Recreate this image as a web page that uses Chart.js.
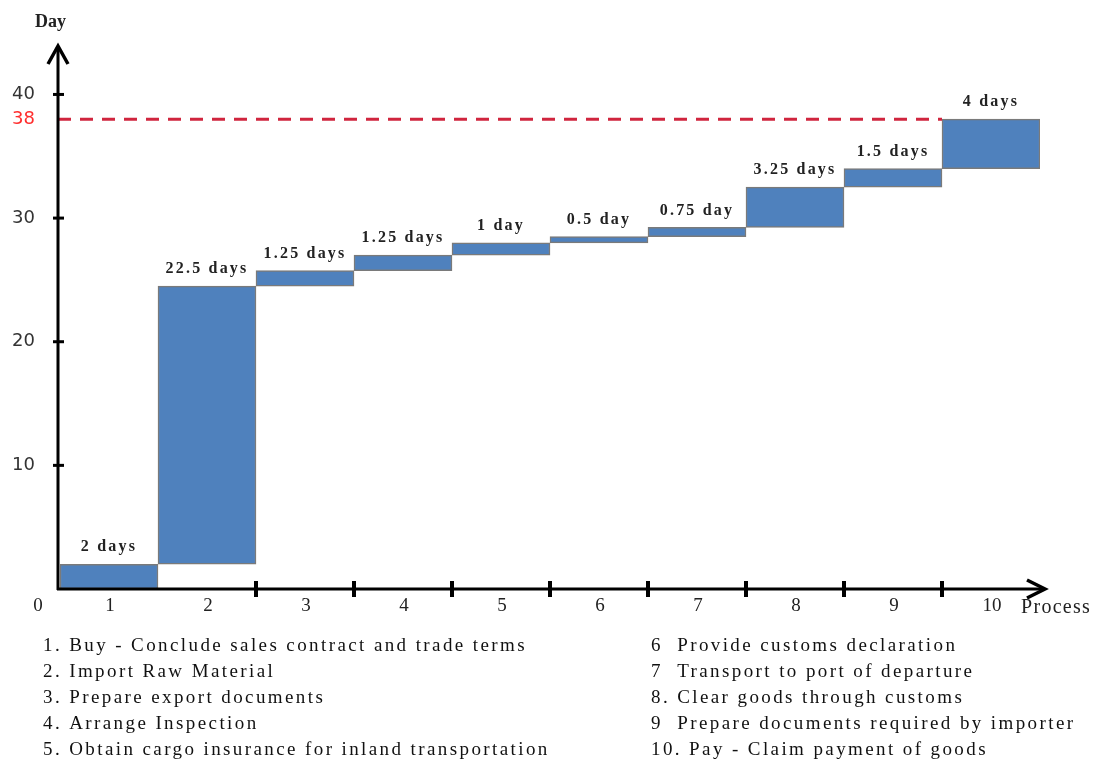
<!DOCTYPE html>
<html>
<head>
<meta charset="utf-8">
<script src="https://cdn.jsdelivr.net/npm/chart.js@4/dist/chart.umd.min.js"></script>
<style>
  html, body { margin: 0; padding: 0; background: #fff; }
  #wrap { width: 1099px; height: 763px; }
</style>
</head>
<body>
<div id="wrap"><canvas id="myChart" width="1099" height="763"></canvas></div>
<script>
// data
var categories = ['1', '2', '3', '4', '5', '6', '7', '8', '9', '10'];
var barStart = [0, 2, 24.5, 25.75, 27, 28, 28.5, 29.25, 32.5, 34];
var barEnd = [2, 24.5, 25.75, 27, 28, 28.5, 29.25, 32.5, 34, 38];
var durationLabels = ['2 days', '22.5 days', '1.25 days', '1.25 days', '1 day', '0.5 day', '0.75 day', '3.25 days', '1.5 days', '4 days'];
var yTicks = [10, 20, 30, 40];
var totalDays = 38;
var stepsLeft = [
  '1. Buy - Conclude sales contract and trade terms',
  '2. Import Raw Material',
  '3. Prepare export documents',
  '4. Arrange Inspection',
  '5. Obtain cargo insurance for inland transportation'
];
var stepsRight = [
  '6  Provide customs declaration',
  '7  Transport to port of departure',
  '8. Clear goods through customs',
  '9  Prepare documents required by importer',
  '10. Pay - Claim payment of goods'
];

var SERIF = '"Liberation Serif", "DejaVu Serif", serif';

// draws axes, arrows, ticks, labels and the notes under the chart
var decorPlugin = {
  id: 'decor',
  afterDatasetsDraw: function (chart) {
    var c = chart.ctx;
    var xs = chart.scales.x;
    var ys = chart.scales.y;
    var meta = chart.getDatasetMeta(0);
    var x0 = 58;
    var y0 = ys.getPixelForValue(0);
    c.save();

    // dashed line at total
    var yTot = ys.getPixelForValue(totalDays);
    var lastBar = meta.data[meta.data.length - 1];
    c.strokeStyle = '#d0253e';
    c.lineWidth = 3;
    c.setLineDash([13, 9]);
    c.beginPath();
    c.moveTo(x0, yTot);
    c.lineTo(lastBar.x - lastBar.width / 2, yTot);
    c.stroke();
    c.setLineDash([]);

    // labels above bars
    c.fillStyle = '#222';
    c.font = 'bold 16px ' + SERIF;
    c.letterSpacing = '2.2px';
    c.textAlign = 'center';
    c.textBaseline = 'middle';
    meta.data.forEach(function (bar, i) {
      c.fillText(durationLabels[i], bar.x, bar.y - 17);
    });

    // axes
    c.strokeStyle = '#000';
    c.lineWidth = 3;
    c.beginPath();
    c.moveTo(x0, y0 + 1);
    c.lineTo(x0, 46);
    c.moveTo(x0 - 1, y0);
    c.lineTo(1044, y0);
    c.stroke();
    // arrow heads
    c.lineWidth = 3.5;
    c.beginPath();
    c.moveTo(x0 - 10, 64);
    c.lineTo(x0, 46);
    c.lineTo(x0 + 10, 64);
    c.moveTo(1027, y0 - 9);
    c.lineTo(1045, y0);
    c.lineTo(1027, y0 + 9);
    c.stroke();

    // y tick marks + labels
    c.letterSpacing = '0px';
    c.font = '18px "DejaVu Sans", sans-serif';
    c.textAlign = 'right';
    yTicks.forEach(function (v) {
      var py = ys.getPixelForValue(v);
      c.fillStyle = '#000';
      c.fillRect(x0 - 5, py - 1.5, 11, 3);
      c.fillStyle = '#333';
      c.fillText(String(v), 35, py);
    });
    c.fillStyle = '#ff2d2d';
    c.fillText(String(totalDays), 35, yTot);

    // x tick marks between categories (none between 1 and 2)
    c.fillStyle = '#000';
    for (var i = 1; i < categories.length - 1; i++) {
      var px = (xs.getPixelForValue(i) + xs.getPixelForValue(i + 1)) / 2;
      c.fillRect(px - 2, y0 - 8, 4, 16);
    }

    // x labels
    c.fillStyle = '#222';
    c.font = '19px ' + SERIF;
    c.textAlign = 'center';
    categories.forEach(function (lab, i) {
      c.fillText(lab, xs.getPixelForValue(i) + 1, y0 + 17);
    });
    c.fillText('0', 38, y0 + 17);
    c.textAlign = 'left';
    c.font = '20px ' + SERIF;
    c.letterSpacing = '1.3px';
    c.fillText('Process', 1021, y0 + 19);

    c.font = 'bold 18px ' + SERIF;
    c.letterSpacing = '0px';
    c.fillText('Day', 35, 22);

    // notes
    c.fillStyle = '#111';
    c.font = '19px ' + SERIF;
    c.letterSpacing = '2.4px';
    c.textBaseline = 'middle';
    stepsLeft.forEach(function (t, k) {
      c.fillText(t, 43, 646 + k * 26);
    });
    stepsRight.forEach(function (t, k) {
      c.fillText(t, 651, 646 + k * 26);
    });
    c.restore();
  }
};

var ctx = document.getElementById('myChart').getContext('2d');
var myChart = new Chart(ctx, {
  type: 'bar',
  data: {
    labels: categories,
    datasets: [{
      data: barStart.map(function (s, i) { return [s, barEnd[i]]; }),
      backgroundColor: '#4f81bd',
      borderColor: '#7a7a7a',
      borderWidth: 1.5,
      borderSkipped: false,
      barPercentage: 1,
      categoryPercentage: 1
    }]
  },
  options: {
    responsive: false,
    animation: false,
    layout: { padding: { left: 60, right: 59, top: 45, bottom: 174 } },
    plugins: { legend: { display: false }, tooltip: { enabled: false } },
    scales: {
      x: { display: false },
      y: { display: false, min: 0, max: 44 }
    }
  },
  plugins: [decorPlugin]
});
</script>
</body>
</html>
